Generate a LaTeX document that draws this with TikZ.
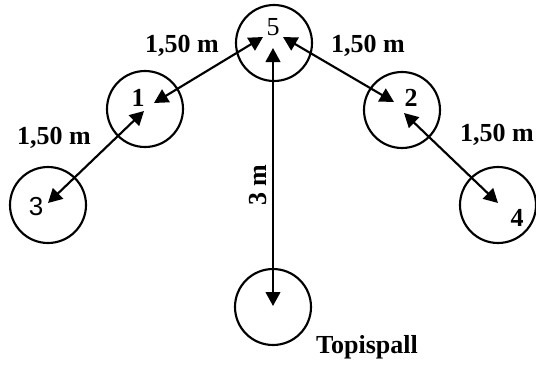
\documentclass[tikz,border=0pt]{standalone}
\usepackage{fontspec}
\setmainfont{Liberation Serif}
\setsansfont{Liberation Sans}
\usepackage{tikz}
\usetikzlibrary{arrows.meta}

\begin{document}
\begin{tikzpicture}[
  x=0.75pt,
  y=-0.75pt,
  >={Triangle[length=10.5pt,width=11pt]},
  font=\fontsize{19.5}{22}\selectfont\bfseries,
  spot/.style={
    circle,
    draw=black,
    line width=1.6pt,
    inner sep=0pt,
    minimum size=57pt
  },
  num/.style={
    inner sep=0pt
  },
  dist/.style={
    inner sep=0pt
  },
  arr/.style={<->,line width=1.6pt,draw=black}
]
\useasboundingbox (0,0) rectangle (536,365);

\node[spot] (spot5) at (274,43) {};
\node[spot] (spot1) at (145,109) {};
\node[spot] (spot2) at (402,110) {};
\node[spot] (spot3) at (48,205) {};
\node[spot] (spot4) at (498,205) {};
\node[spot] (ball) at (273,307) {};

\node[num] (num5) at (273,27) {\mdseries 5};
\node[num] (num1) at (138,98) {1};
\node[num] (num2) at (411,98) {2};
\node[num] (num3) at (36,207) {\sffamily\mdseries 3};
\node[num] (num4) at (517,218) {4};

\coordinate (tip3) at (48,203);
\coordinate (tip1a) at (144,111);
\coordinate (tip1b) at (154,103);
\coordinate (tip5a) at (263,37);
\coordinate (tip5b) at (273,48);
\coordinate (tip5c) at (283,37);
\coordinate (tip2a) at (394,102);
\coordinate (tip2b) at (404,113);
\coordinate (tip4) at (498,203);
\coordinate (tipball) at (273,306);

\draw[arr] (tip3) -- (tip1a);
\draw[arr] (tip1b) -- (tip5a);
\draw[arr] (tip5c) -- (tip2a);
\draw[arr] (tip2b) -- (tip4);
\draw[arr] (tip5b) -- (tipball);

\node[dist] (d15) at (182,46) {1,50 m};
\node[dist] (d31) at (54,138) {1,50 m};
\node[dist] (d52) at (368,46) {1,50 m};
\node[dist] (d24) at (497,135) {1,50 m};
\node[dist, rotate=90] (d5b) at (258,185) {3 m};
\node[dist] (balllabel) at (367,347) {Topispall};

\end{tikzpicture}
\end{document}
